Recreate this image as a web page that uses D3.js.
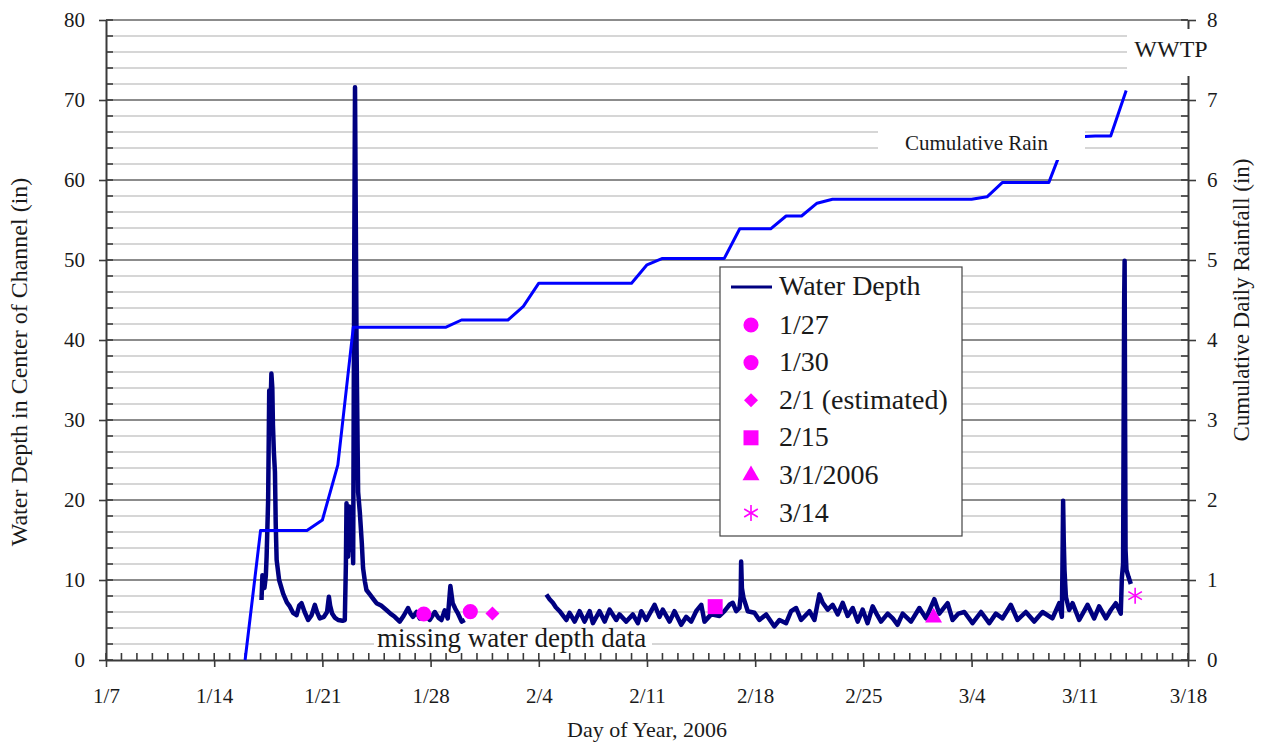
<!DOCTYPE html>
<html><head><meta charset="utf-8">
<script src="https://cdn.jsdelivr.net/npm/d3@7"></script>
<style>body{margin:0;background:#fff}</style>
</head><body>
<svg id="c" width="1264" height="745"></svg>
<script>
// ---------- data ----------
const xTickLabels = ["1/7","1/14","1/21","1/28","2/4","2/11","2/18","2/25","3/4","3/11","3/18"];
const leftTicks = [0,10,20,30,40,50,60,70,80];
const rightTicks = [0,1,2,3,4,5,6,7,8];

// water depth (day of year 2006, inches); null = missing data gap
const depthDay = [17.06,17.12,17.17,17.25,17.34,17.39,17.49,17.56,17.63,17.70,17.76,17.80,17.86,17.93,17.98,18.04,18.20,18.46,18.70,18.89,19.10,19.33,19.50,19.65,19.85,20.08,20.30,20.51,20.65,20.83,21.10,21.30,21.42,21.50,21.63,21.80,22.02,22.30,22.45,22.52,22.56,22.62,22.66,22.73,22.78,22.82,22.90,22.99,23.06,23.11,23.16,23.21,23.31,23.42,23.55,23.63,23.75,23.85,24.07,24.30,24.50,24.80,25.14,25.40,25.68,26.00,26.25,26.54,26.70,26.86,27.10,27.30,27.62,27.94,28.27,28.50,28.70,28.91,29.11,29.28,29.43,29.60,29.75,30.01,30.21,
  30.5,
  35.49,35.70,35.91,36.10,36.35,36.78,36.99,37.32,37.64,37.96,38.29,38.50,38.93,39.26,39.58,40.01,40.22,40.66,41.08,41.41,41.63,41.95,42.49,42.81,43.02,43.46,43.78,44.21,44.54,44.86,45.18,45.51,45.72,46.15,46.69,47.01,47.33,47.55,47.77,47.98,48.06,48.09,48.14,48.24,48.52,48.95,49.27,49.71,50.24,50.57,51.00,51.32,51.65,51.97,52.51,52.83,53.15,53.37,53.69,54.01,54.34,54.66,54.98,55.31,55.63,55.95,56.27,56.60,56.90,57.14,57.57,57.90,58.21,58.54,59.08,59.62,60.05,60.59,60.91,61.45,61.77,62.15,62.53,63.06,63.61,64.14,64.57,65.00,65.54,65.97,66.51,67.05,67.59,68.23,68.67,68.84,68.88,68.92,68.96,69.01,69.10,69.31,69.53,69.96,70.50,70.93,71.25,71.69,72.01,72.33,72.65,72.72,72.80,72.87,72.90,72.93,72.96,73.02,73.15,73.30];
const depthVal = [7.5,10.6,10.0,9.0,10.5,12.9,20,33.7,30.5,35.8,34,29.4,26,23.5,17,12.5,10,8.3,7.2,6.7,5.9,5.6,6.8,7.1,6.0,5.0,5.6,6.9,6.0,5.2,5.4,6.0,7.9,6.8,5.8,5.3,5.0,4.9,5.0,12,19.6,14,12.9,19.2,15,13.75,17.9,12.1,50,71.6,55,39,21,18.5,14.6,11.5,9.8,8.75,8.2,7.6,7.1,6.8,6.25,5.8,5.4,4.8,5.5,6.5,5.8,5.4,6.0,5.2,5.9,5.0,6.0,5.3,5.0,6.2,5.2,9.25,7.1,6.4,5.9,4.8,5.0,
  null,
  8.2,7.6,7.15,6.6,6.1,5.0,5.9,4.8,6.1,4.8,6.1,4.6,6.1,4.8,6.3,5.0,5.7,4.8,5.7,4.6,6.1,5.0,6.9,5.4,6.3,4.8,6.1,4.4,5.4,4.8,6.1,6.9,4.8,5.7,5.5,6.1,6.9,7.15,6.1,6.5,8,12.3,9,7.8,6.1,5.9,5.0,5.7,4.2,5.0,4.6,6.1,6.5,5.0,6.1,5.0,8.2,7.15,6.3,6.9,5.7,7.15,5.5,6.5,4.8,6.3,4.6,6.7,5.6,4.8,5.8,5.2,4.4,5.8,4.8,6.5,5.2,7.6,5.8,7.1,5.0,5.8,6.0,4.6,6.0,4.6,5.8,5.2,6.9,5.0,6.0,4.8,6.0,5.2,7.1,5.4,12,19.9,15,11.25,7.9,6.25,7.1,5.0,6.9,5.2,6.7,5.2,6.25,7.1,5.8,10.2,12,45,49.9,30,13.75,11.25,10.4,9.5];

// cumulative rain (day of year 2006, inches)
const rainDay = [16,17,20,21,22,23,29,30,33,34,35,41,42,43,47,48,50,51,52,53,54,63,64,65,68,69,70,71,72,73];
const rainVal = [0,1.62,1.62,1.75,2.44,4.16,4.16,4.25,4.25,4.42,4.71,4.71,4.94,5.02,5.02,5.39,5.39,5.55,5.55,5.71,5.76,5.76,5.79,5.97,5.97,6.47,6.54,6.55,6.55,7.12];

// depth measurements
const sampleLabels = ["1/27","1/30","2/1 (estimated)","2/15","3/1/2006","3/14"];
const sampleDay = [27.56,30.57,32.0,46.41,60.54,73.58];
const sampleVal = [5.75,6.05,5.8,6.67,5.3,8.04];
const sampleShape = ["circle","circle","diamond","square","triangle","asterisk"];

// ---------- drawing ----------
const FONT = "'Liberation Serif', 'Times New Roman', serif";
const svg = d3.select("#c");
const toDate = d => new Date(Date.UTC(2006,0,1) + (d-1)*864e5);
const parseLbl = s => { const [m,d] = s.split("/").map(Number); return new Date(Date.UTC(2006,m-1,d)); };

const L = 106, R = 1188, T = 20, B = 660;
const x = d3.scaleUtc().domain([parseLbl(xTickLabels[0]), parseLbl(xTickLabels[xTickLabels.length-1])]).range([L,R]);
const yL = d3.scaleLinear().domain([0,80]).range([B,T]);
const yR = d3.scaleLinear().domain([0,8]).range([B,T]);

function txt(sel, s, size){
  return sel.append("text").style("font-family",FONT).style("font-size",size+"px").attr("fill","#1a1a1a").text(s);
}

// gridlines
const g = svg.append("g");
d3.range(2,80,2).filter(v => v%10 !== 0).forEach(v => {
  g.append("line").attr("x1",L).attr("x2",R).attr("y1",yL(v)).attr("y2",yL(v))
   .attr("stroke","#c8c8c8").attr("stroke-width",1.4);
});
leftTicks.filter(v=>v>0).forEach(v => {
  g.append("line").attr("x1",L).attr("x2",R).attr("y1",yL(v)).attr("y2",yL(v))
   .attr("stroke","#1a1a1a").attr("stroke-width",1.1);
});

// axes
const axCol = "#3a3a3a";
function styleAxis(sel, size){
  sel.select(".domain").attr("stroke",axCol).attr("stroke-width",2);
  sel.selectAll(".tick line").attr("stroke",axCol).attr("stroke-width",1.6);
  sel.selectAll("text").style("font-family",FONT).style("font-size",size+"px").attr("fill","#1a1a1a");
}
const axL = svg.append("g").attr("transform",`translate(${L},0)`)
  .call(d3.axisLeft(yL).tickValues(leftTicks).tickSize(7).tickPadding(14).tickSizeOuter(0));
styleAxis(axL, 21);
const axR = svg.append("g").attr("transform",`translate(${R},0)`)
  .call(d3.axisRight(yR).tickValues(rightTicks).tickSize(8).tickPadding(11).tickSizeOuter(0));
styleAxis(axR, 21);
const axB = svg.append("g").attr("transform",`translate(0,${B})`)
  .call(d3.axisBottom(x).tickValues(xTickLabels.map(parseLbl)).tickFormat((d,i)=>xTickLabels[i]).tickSize(7).tickPadding(21).tickSizeOuter(0));
styleAxis(axB, 21);

// inner (minor) ticks
const mt = svg.append("g").attr("stroke",axCol).attr("stroke-width",1.6);
d3.range(0,80.1,2).forEach(v => mt.append("line").attr("x1",L).attr("x2",L+7).attr("y1",yL(v)).attr("y2",yL(v)));
d3.range(0,8.01,0.2).forEach(v => mt.append("line").attr("x1",R-7).attr("x2",R).attr("y1",yR(v)).attr("y2",yR(v)));
d3.utcDay.range(x.domain()[0], d3.utcDay.offset(x.domain()[1],1)).forEach(d =>
  mt.append("line").attr("x1",x(d)).attr("x2",x(d)).attr("y1",B-7).attr("y2",B));

// water depth line
const depthData = depthDay.map((d,i)=>({d, v: depthVal[i]}));
svg.append("path").datum(depthData)
  .attr("fill","none").attr("stroke","#000080").attr("stroke-width",4.5).attr("stroke-linejoin","round")
  .attr("d", d3.line().defined(p=>p.v!==null).x(p=>x(toDate(p.d))).y(p=>yL(p.v)));

// markers
const MAG = "#ff00ff";
function marker(sel, shape, cx, cy){
  if (shape === "asterisk") {
    const r = 8, gg = sel.append("g").attr("transform",`translate(${cx},${cy})`).attr("stroke",MAG).attr("stroke-width",1.6);
    gg.append("line").attr("x1",0).attr("x2",0).attr("y1",-r).attr("y2",r);
    gg.append("line").attr("x1",-r*0.85).attr("x2",r*0.85).attr("y1",-r*0.5).attr("y2",r*0.5);
    gg.append("line").attr("x1",-r*0.85).attr("x2",r*0.85).attr("y1",r*0.5).attr("y2",-r*0.5);
    return;
  }
  if (shape === "diamond") {
    sel.append("path").attr("transform",`translate(${cx},${cy}) rotate(45)`).attr("d",d3.symbol(d3.symbolSquare,98)()).attr("fill",MAG);
    return;
  }
  const types = {circle:[d3.symbolCircle,180], square:[d3.symbolSquare,225], triangle:[d3.symbolTriangle,125]};
  const [t,s] = types[shape];
  sel.append("path").attr("transform",`translate(${cx},${cy})`).attr("d",d3.symbol(t,s)()).attr("fill",MAG);
}
sampleDay.forEach((d,i)=> marker(svg, sampleShape[i], x(toDate(d)), yL(sampleVal[i])));

// cumulative rain line
const rainData = rainDay.map((d,i)=>({d, v: rainVal[i]}));
svg.append("path").datum(rainData)
  .attr("fill","none").attr("stroke","#0000ff").attr("stroke-width",3).attr("stroke-linejoin","round")
  .attr("d", d3.line().x(p=>x(toDate(p.d))).y(p=>yR(p.v)));

// axis titles
txt(svg,"Water Depth in Center of Channel (in)",24).attr("transform","translate(27,362) rotate(-90)").attr("text-anchor","middle");
txt(svg,"Cumulative Daily Rainfall (in)",23).attr("transform","translate(1249,300) rotate(-90)").attr("text-anchor","middle");
txt(svg,"Day of Year, 2006",22).attr("x",647).attr("y",737).attr("text-anchor","middle");

// annotation boxes
svg.append("rect").attr("x",1127).attr("y",29).attr("width",88).attr("height",47).attr("fill","#fff");
txt(svg,"WWTP",24).attr("x",1171).attr("y",57).attr("text-anchor","middle");
svg.append("rect").attr("x",878).attr("y",121).attr("width",207).attr("height",39).attr("fill","#fff");
txt(svg,"Cumulative Rain",21).attr("x",905).attr("y",150);
svg.append("rect").attr("x",374).attr("y",631).attr("width",278).attr("height",21).attr("fill","#fff");
txt(svg,"missing water depth data",27).attr("x",377).attr("y",647);

// legend
const lg = svg.append("g");
lg.append("rect").attr("x",720).attr("y",267).attr("width",242).attr("height",269)
  .attr("fill","#fff").attr("stroke","#444").attr("stroke-width",1.2);
lg.append("line").attr("x1",731).attr("x2",772).attr("y1",287).attr("y2",287).attr("stroke","#000080").attr("stroke-width",3);
txt(lg,"Water Depth",28).attr("x",779).attr("y",295);
sampleLabels.forEach((s,i)=>{
  const cy = 325 + i*37.6;
  marker(lg, sampleShape[i], 751, cy);
  txt(lg,s,28).attr("x",779).attr("y",cy+8.5);
});
</script>
</body></html>
